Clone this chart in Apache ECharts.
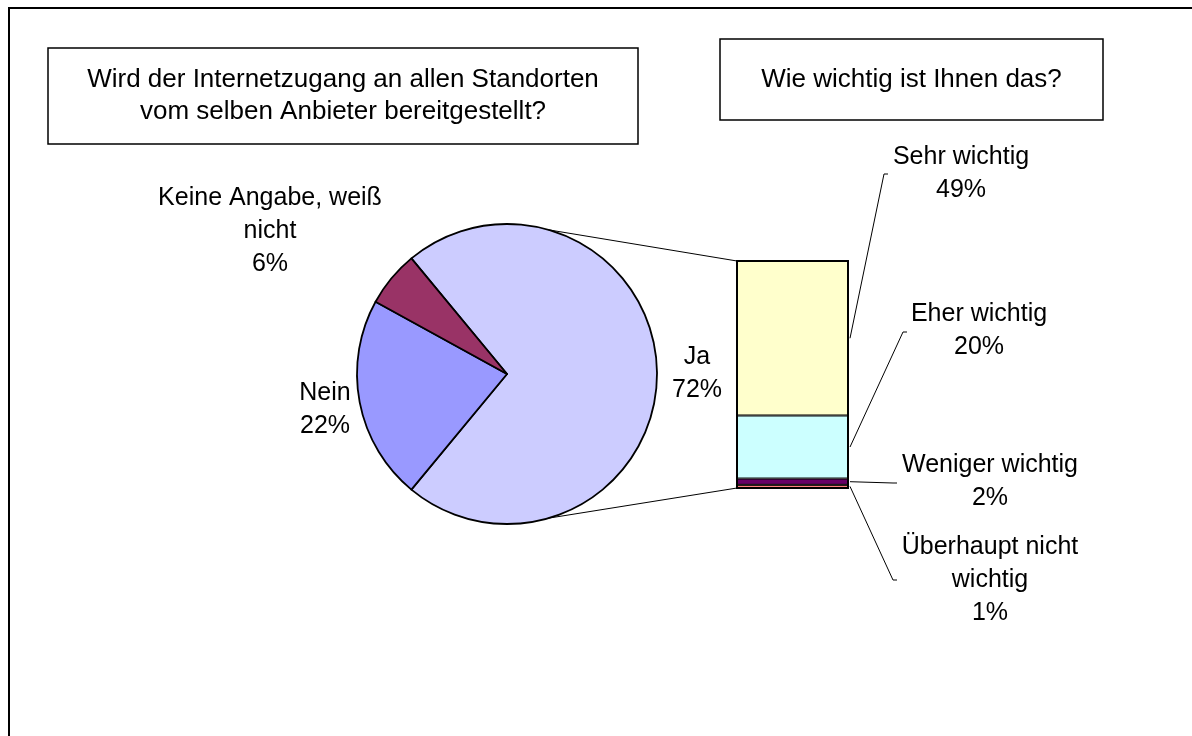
<!DOCTYPE html>
<html>
<head>
<meta charset="utf-8">
<title>Internetzugang</title>
<script src="https://cdn.jsdelivr.net/npm/echarts@6/dist/echarts.min.js"></script>
<style>
  html, body { margin: 0; padding: 0; background: #fff; }
  #main { width: 1192px; height: 736px; }
</style>
</head>
<body>
<div id="main"></div>
<script>
// pie: Wird der Internetzugang an allen Standorten vom selben Anbieter bereitgestellt?
const pieNames = ['Ja', 'Nein', 'Keine Angabe, weiß\nnicht'];
const pieValues = [72, 22, 6];
const pieColors = ['#CCCCFF', '#9999FF', '#993366'];

// bar: split of "Ja" (bottom to top)
const barNames = ['Überhaupt nicht\nwichtig', 'Weniger wichtig', 'Eher wichtig', 'Sehr wichtig'];
const barValues = [1, 2, 20, 49];
const barColors = ['#FF8080', '#660066', '#CCFFFF', '#FFFFCC'];

const titleLeft = 'Wird der Internetzugang an allen Standorten\nvom selben Anbieter bereitgestellt?';
const titleRight = 'Wie wichtig ist Ihnen das?';

// layout
const FONT = '"Liberation Sans", Arial, sans-serif';
const PIE_C = [507, 374];
const PIE_R = 150;
const GRID = { left: 737, top: 261, width: 111, height: 227 };
const CONNECT_ANGLE = 74; // where the pie->bar lines leave the circle
const pieLabelOffset = [[190, 0], [-182, 36], [-237, -143]];
const barLabelAt = [[990, 580], [990, 482], [979, 331], [961, 174]];
const leaderEnd = [[897, 580], [897, 483], [907, 332], [888, 174]];

const pieTotal = pieValues.reduce((a, b) => a + b, 0);
const barTotal = barValues.reduce((a, b) => a + b, 0);

const labelText = {
  color: '#000',
  fontFamily: FONT,
  fontSize: 25,
  lineHeight: 33,
  align: 'center'
};

let chart = echarts.init(document.getElementById('main'));

chart.setOption({
  animation: false,
  grid: GRID,
  xAxis: { type: 'category', data: ['Ja'], show: false },
  yAxis: { type: 'value', min: 0, max: barTotal, show: false },
  series: [
    {
      type: 'pie',
      center: PIE_C,
      radius: PIE_R,
      // Ja is centred on the right side, facing the bar
      startAngle: 180 * pieValues[0] / pieTotal,
      clockwise: true,
      avoidLabelOverlap: false,
      silent: true,
      data: pieNames.map((n, i) => ({
        name: n,
        value: pieValues[i],
        itemStyle: { color: pieColors[i] }
      })),
      itemStyle: { borderColor: '#000', borderWidth: 1.8 },
      label: Object.assign({ show: true, formatter: '{b}\n{d}%' }, labelText),
      labelLine: { show: false },
      labelLayout: function (p) {
        let o = pieLabelOffset[p.dataIndex];
        return { x: PIE_C[0] + o[0], y: PIE_C[1] + o[1], align: 'center', verticalAlign: 'middle' };
      }
    }
  ].concat(barNames.map((n, i) => ({
    type: 'bar',
    name: n,
    stack: 'ja',
    barWidth: '100%',
    silent: true,
    data: [barValues[i]],
    itemStyle: { color: barColors[i], borderColor: '#000', borderWidth: 1 },
    label: Object.assign({ show: true, position: 'right', formatter: '{a}\n{c}%' }, labelText),
    labelLayout: function () {
      return { x: barLabelAt[i][0], y: barLabelAt[i][1], align: 'center', verticalAlign: 'middle' };
    }
  })))
});

// decorations: frame, title boxes, connector and leader lines
let graphics = [];
graphics.push({
  type: 'rect', z: -10,
  shape: { x: 9, y: 8, width: 1200, height: 740 },
  style: { fill: 'none', stroke: '#000', lineWidth: 2 }
});

function titleBox(x, y, w, h, text) {
  graphics.push({
    type: 'rect', z: 5,
    shape: { x: x, y: y, width: w, height: h },
    style: { fill: '#fff', stroke: '#000', lineWidth: 1.5 }
  });
  graphics.push({
    type: 'text', z: 6,
    x: x + w / 2, y: y + h / 2,
    style: {
      text: text, fill: '#000', font: '26px ' + FONT,
      lineHeight: 32, align: 'center', verticalAlign: 'middle'
    }
  });
}
titleBox(48, 48, 590, 96, titleLeft);
titleBox(720, 39, 383, 81, titleRight);

// outline round the whole bar, a little heavier than the inner splits
let yTop = chart.convertToPixel({ yAxisIndex: 0 }, barTotal);
let yBot = chart.convertToPixel({ yAxisIndex: 0 }, 0);
graphics.push({
  type: 'rect', z: 3,
  shape: { x: GRID.left, y: yTop, width: GRID.width, height: yBot - yTop },
  style: { fill: 'none', stroke: '#000', lineWidth: 2 }
});

// pie -> bar connectors
let a = CONNECT_ANGLE * Math.PI / 180;
[[Math.sin(a), yTop], [-Math.sin(a), yBot]].forEach(function (c) {
  graphics.push({
    type: 'line', z: 4,
    shape: {
      x1: PIE_C[0] + PIE_R * Math.cos(a), y1: PIE_C[1] - PIE_R * c[0],
      x2: GRID.left, y2: c[1]
    },
    style: { stroke: '#000', lineWidth: 1 }
  });
});

// leaders from bar segments to their labels
let cum = 0;
barValues.forEach(function (v, i) {
  let yMid = chart.convertToPixel({ yAxisIndex: 0 }, cum + v / 2);
  cum += v;
  let e = leaderEnd[i];
  graphics.push({
    type: 'polyline', z: 4,
    shape: { points: [[GRID.left + GRID.width + 2, yMid], [e[0] - 4, e[1]], e] },
    style: { fill: 'none', stroke: '#000', lineWidth: 1 }
  });
});

chart.setOption({ graphic: graphics });
</script>
</body>
</html>
